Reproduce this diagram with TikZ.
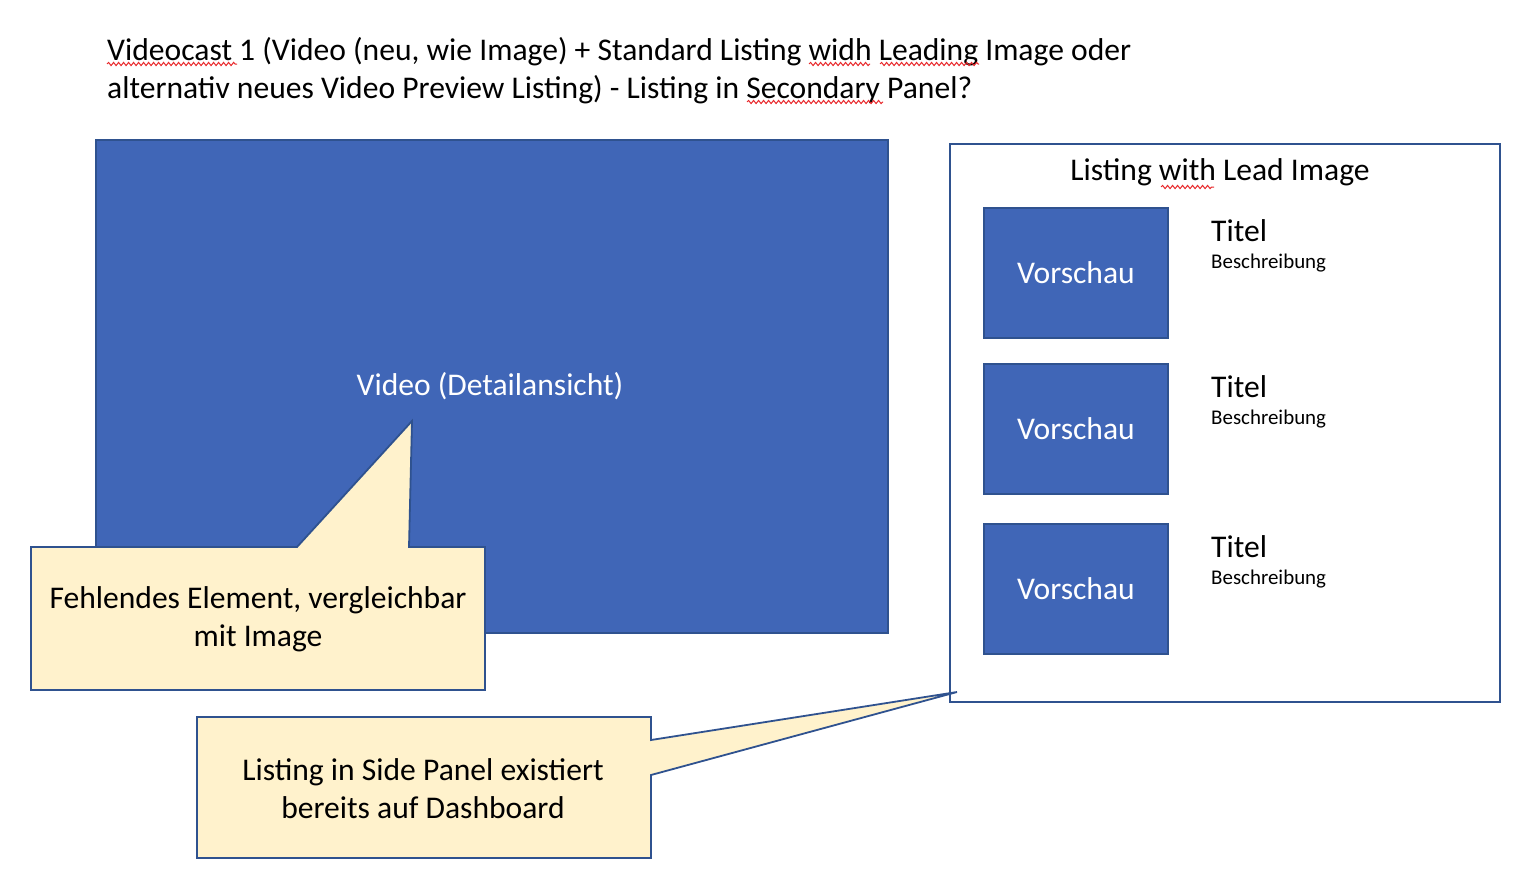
\documentclass[tikz,border=0pt]{standalone}
\usepackage{fontspec}
\setmainfont{Carlito}
\usetikzlibrary{decorations.pathmorphing}
\definecolor{boxblue}{HTML}{4066B7}
\definecolor{edgeblue}{HTML}{2F528F}
\definecolor{notefill}{HTML}{FFF2CC}
\definecolor{squig}{HTML}{E8282B}
\tikzset{
  bigtxt/.style={font=\fontsize{31.7}{38}\selectfont, inner sep=0pt},
  smalltxt/.style={font=\fontsize{21}{26}\selectfont, inner sep=0pt},
  bluebox/.style={draw=edgeblue, fill=boxblue, line width=1.8bp, inner sep=0pt, anchor=north west},
  panelbox/.style={draw=edgeblue, fill=white, line width=1.8bp, inner sep=0pt, anchor=north west},
  notebox/.style={draw=edgeblue, fill=notefill, line width=1.8bp, line join=miter},
  spell/.style={draw=squig, line width=1bp, decorate, decoration={snake, amplitude=1.6bp, segment length=5bp}},
}
\begin{document}
\begin{tikzpicture}[x=1bp, y=-1bp]
\useasboundingbox (0,0) rectangle (1536,890);

% title
\node[bigtxt, anchor=base west] (title1) at (107,60) {Videocast 1 (Video (neu, wie Image) + Standard Listing widh Leading Image oder};
\node[bigtxt, anchor=base west] (title2) at (107,98) {alternativ neues Video Preview Listing) - Listing in Secondary Panel?};
\draw[spell] (107,64) -- (237,64);
\draw[spell] (809,64) -- (870,64);
\draw[spell] (880,64) -- (979,64);
\draw[spell] (747,102) -- (883,102);

% big video box
\node[bluebox, minimum width=792bp, minimum height=493bp] (video) at (95,139) {};
\node[bigtxt, text=white] (videotxt) at (490,386) {Video (Detailansicht)};

% callout 1
\coordinate (tip1) at (412,421);
\draw[notebox] (31,547) -- (297,547) -- (tip1) -- (409,547) -- (485,547) -- (485,690) -- (31,690) -- cycle;
\node[bigtxt, align=center] (note1) at (258,619) {Fehlendes Element, vergleichbar\\mit Image};

% right panel
\node[panelbox, minimum width=550bp, minimum height=558bp] (panel) at (949,143) {};
\node[bigtxt] (paneltitle) at (1220,172) {Listing with Lead Image};
\draw[spell] (1161,187) -- (1214,187);

\foreach \i/\y in {1/207, 2/363, 3/523} {
  \node[bluebox, minimum width=184bp, minimum height=130bp] (prev\i) at (983,\y) {};
  \node[bigtxt, text=white] (prevtxt\i) at (prev\i.center) {Vorschau};
  \node[bigtxt, anchor=base west] (titel\i) at (1211,\y+34) {Titel};
  \node[smalltxt, anchor=base west] (desc\i) at (1211,\y+61) {Beschreibung};
}

% callout 2
\coordinate (tip2) at (957,692);
\draw[notebox] (197,717) -- (651,717) -- (651,740) -- (tip2) -- (651,775) -- (651,858) -- (197,858) -- cycle;
\node[bigtxt, align=center] (note2) at (423,789) {Listing in Side Panel existiert\\bereits auf Dashboard};
\end{tikzpicture}
\end{document}
